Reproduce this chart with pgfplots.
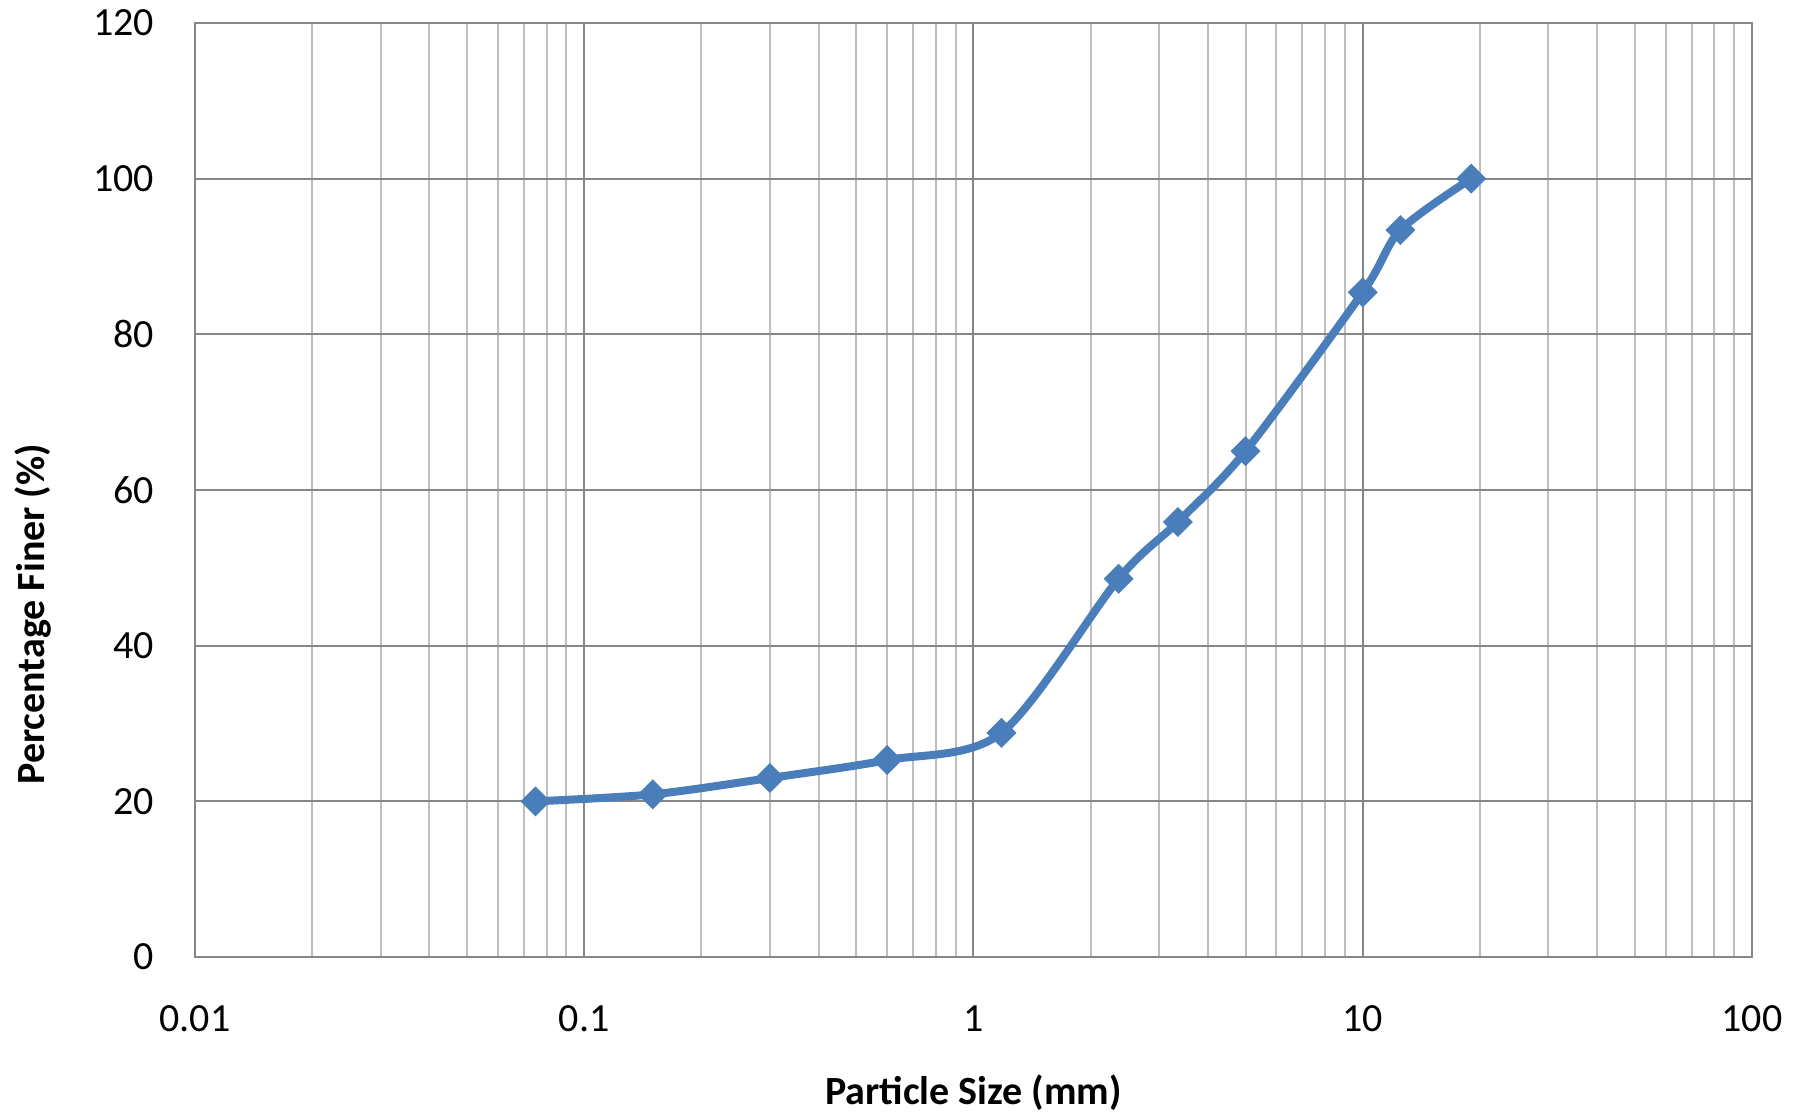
\documentclass[border=0pt]{standalone}
\usepackage{fontspec}
\setmainfont{Carlito}
\usepackage{pgfplots}
\pgfplotsset{compat=1.18}
\usetikzlibrary{calc}
\definecolor{series}{HTML}{4A7EBB}
\definecolor{gridmaj}{HTML}{868686}
\definecolor{gridmin}{HTML}{BEBEBE}

\begin{document}
\begin{tikzpicture}
\begin{axis}[
    scale only axis,
    width=389.25pt, height=233.5pt,
    xmode=log,
    xmin=0.01, xmax=100,
    ymin=0, ymax=120,
    xtick={0.01,0.1,1,10,100},
    xticklabels={0.01,0.1,1,10,100},
    minor xtick={0.02,0.03,0.04,0.05,0.06,0.07,0.08,0.09,
                 0.2,0.3,0.4,0.5,0.6,0.7,0.8,0.9,
                 2,3,4,5,6,7,8,9,
                 20,30,40,50,60,70,80,90},
    ytick={0,20,40,60,80,100,120},
    yticklabels={0,20,40,60,80,100,120},
    major tick length=0pt, minor tick length=0pt,
    xmajorgrids, xminorgrids, ymajorgrids,
    major grid style={gridmaj, line width=0.5pt},
    minor grid style={gridmin, line width=0.5pt},
    axis line style={gridmaj, line width=0.6pt},
    tick label style={font=\fontsize{10}{12}\selectfont, text=black, inner sep=0pt},
    yticklabel style={xshift=-10pt},
    xticklabel style={yshift=-12pt},
    xlabel={Particle Size (mm)},
    ylabel={Percentage Finer (\%)},
    label style={font=\fontsize{10}{12}\selectfont\bfseries, inner sep=0pt},
    xlabel style={at={(axis description cs:0.5,-0.145)}, anchor=center},
    ylabel style={at={(axis description cs:-0.104,0.367)}, anchor=center},
]
\addplot[
    color=series,
    line width=2pt,
    smooth,
    mark=square*,
    mark size=2.4pt,
    mark options={fill=series, line width=0.5pt, rotate=45},
    ]
    coordinates {
    (0.075,20)(0.15,20.9)(0.3,23)(0.6,25.3)(1.18,28.8)(2.36,48.6)(3.35,55.9)(5,65)(10,85.4)(12.5,93.4)(19,100)
    };
\end{axis}
\path ($(current axis.south west)+(-48.75pt,-39.5pt)$) rectangle ($(current axis.north east)+(14.25pt,5.75pt)$);
\end{tikzpicture}
\end{document}
